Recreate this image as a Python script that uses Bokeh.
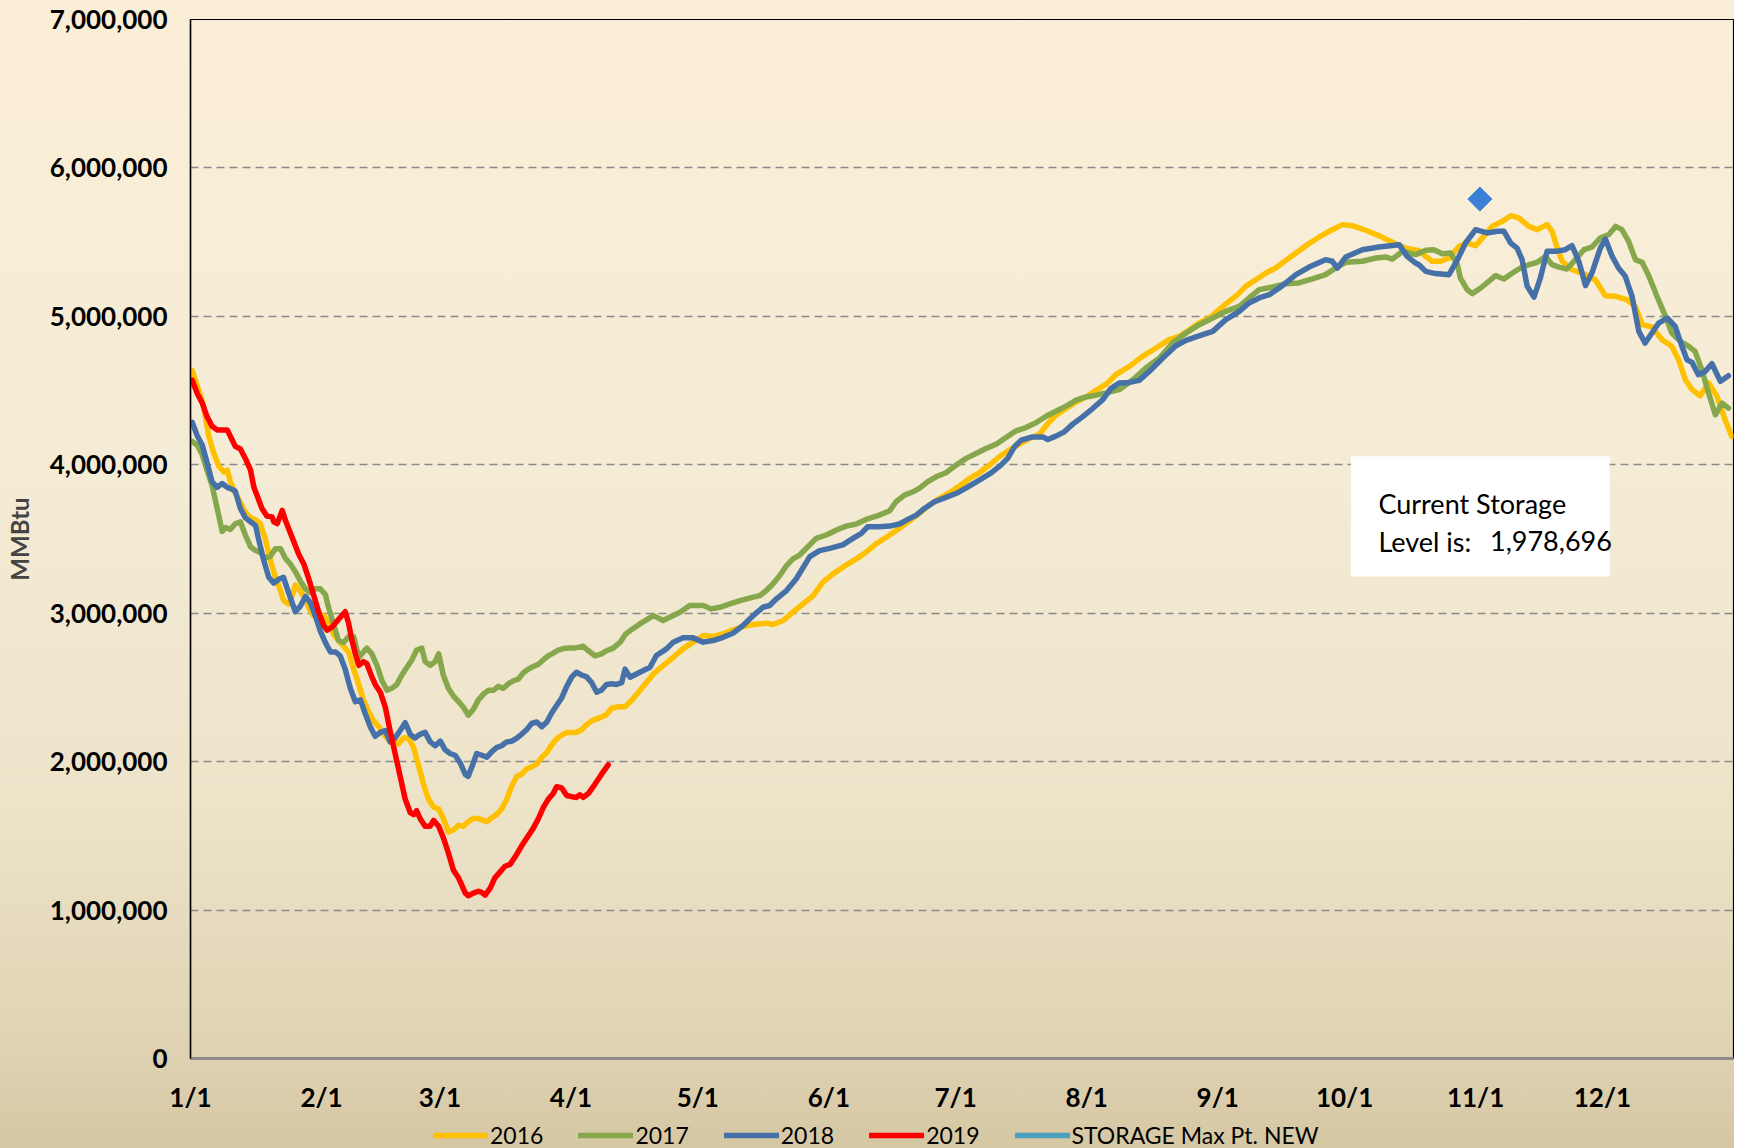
from bokeh.plotting import figure
from bokeh.layouts import column
from bokeh.models import (FixedTicker, NumeralTickFormatter, Legend, LegendItem,
                          BoxAnnotation, Label, Range1d)
from bokeh.embed import file_html
from bokeh.resources import INLINE
import math

# ---------------- data (day offset from Jan 1, storage in MMBtu) ----------------
days_2016 = [0.4, 1.6, 2.8, 3.5, 4.3, 5.5, 6.7, 7.9, 8.7, 9.4, 10.6, 11.8, 13.0, 14.2, 15.4, 16.5, 17.7, 18.9,
             20.1, 21.3, 22.0, 23.2, 24.0, 24.8, 25.6, 26.8, 28.0, 29.1, 30.3, 31.5, 32.7, 33.9, 35.0, 36.2,
             37.4, 38.6, 39.8, 40.9, 42.1, 43.3, 44.5, 45.7, 46.9, 48.0, 49.2, 50.4, 51.6, 52.8, 53.9, 55.1,
             56.3, 57.5, 58.7, 59.8, 61.0, 62.2, 63.4, 64.6, 65.7, 66.9, 68.1, 69.3, 70.1, 71.3, 72.4, 73.6,
             74.8, 76.0, 77.2, 78.3, 79.5, 80.7, 81.9, 83.1, 84.3, 85.4, 86.6, 87.8, 89.0, 90.2, 91.3, 92.5,
             93.7, 94.9, 96.1, 97.2, 98.4, 99.6, 101.2, 102.8, 104.3, 106.3, 109.5, 111.8, 114.2, 116.5, 118.9,
             121.3, 123.6, 126.0, 128.3, 130.7, 133.1, 136.2, 137.8, 140.2, 142.5, 144.9, 147.3, 149.6, 152.0,
             154.3, 157.5, 159.8, 162.2, 165.4, 167.7, 170.1, 172.4, 174.8, 177.2, 179.5, 181.9, 184.3, 186.6,
             189.0, 191.3, 193.7, 196.1, 198.4, 200.8, 202.8, 204.7, 207.1, 209.5, 211.8, 214.2, 216.6, 218.9,
             222.1, 225.2, 228.4, 231.5, 233.9, 236.3, 238.6, 241.0, 243.3, 245.7, 247.7, 249.6, 252.0, 254.4,
             256.7, 259.1, 261.5, 264.2, 267.0, 270.1, 272.5, 274.8, 278.0, 281.1, 284.3, 287.4, 290.6, 292.2,
             293.7, 295.7, 297.7, 300.1, 302.0, 304.0, 305.9, 307.9, 310.3, 312.3, 314.2, 316.6, 318.6, 320.9,
             322.1, 323.3, 324.5, 326.8, 329.2, 332.3, 334.7, 337.1, 339.8, 341.8, 343.4, 345.7, 348.1, 350.4,
             352.0, 353.6, 355.2, 357.1, 359.1, 361.1, 363.0, 364.6]
vals_2016 = [4634000, 4531000, 4428000, 4325000, 4196000, 4080000, 3990000, 3951000, 3964000, 3887000, 3809000,
             3745000, 3680000, 3642000, 3629000, 3603000, 3500000, 3358000, 3242000, 3151000, 3087000, 3061000,
             3113000, 3190000, 3164000, 3113000, 3035000, 2984000, 2984000, 2984000, 2932000, 2855000, 2816000,
             2778000, 2739000, 2623000, 2520000, 2416000, 2339000, 2275000, 2236000, 2184000, 2146000, 2133000,
             2120000, 2159000, 2159000, 2094000, 1978000, 1849000, 1746000, 1694000, 1681000, 1617000, 1527000,
             1540000, 1571000, 1565000, 1596000, 1617000, 1617000, 1604000, 1596000, 1622000, 1643000, 1681000,
             1746000, 1836000, 1901000, 1914000, 1952000, 1965000, 1983000, 2030000, 2061000, 2112000, 2153000,
             2179000, 2197000, 2197000, 2197000, 2215000, 2249000, 2275000, 2288000, 2300000, 2318000, 2360000,
             2370000, 2370000, 2411000, 2479000, 2591000, 2647000, 2703000, 2760000, 2805000, 2850000, 2843000,
             2861000, 2888000, 2910000, 2924000, 2933000, 2924000, 2951000, 3007000, 3063000, 3119000, 3209000,
             3265000, 3310000, 3366000, 3411000, 3468000, 3527000, 3572000, 3623000, 3673000, 3729000, 3774000,
             3812000, 3857000, 3908000, 3946000, 3998000, 4054000, 4099000, 4139000, 4177000, 4206000, 4278000,
             4334000, 4379000, 4424000, 4457000, 4502000, 4543000, 4607000, 4663000, 4730000, 4787000, 4843000,
             4865000, 4910000, 4955000, 4989000, 5045000, 5101000, 5146000, 5202000, 5247000, 5292000, 5326000,
             5377000, 5427000, 5483000, 5535000, 5584000, 5618000, 5611000, 5580000, 5544000, 5499000, 5460000,
             5443000, 5404000, 5371000, 5371000, 5393000, 5472000, 5494000, 5476000, 5539000, 5606000, 5640000,
             5678000, 5663000, 5606000, 5584000, 5618000, 5573000, 5460000, 5371000, 5314000, 5292000, 5247000,
             5139000, 5135000, 5112000, 5067000, 4944000, 4928000, 4843000, 4798000, 4708000, 4573000, 4506000,
             4465000, 4551000, 4461000, 4304000, 4191000]

days_2017 = [0.4, 1.6, 2.8, 3.9, 5.1, 6.3, 7.5, 8.3, 9.4, 10.6, 11.8, 13.0, 14.2, 15.4, 16.5, 17.7, 18.9, 20.1,
             21.3, 22.4, 23.6, 24.8, 26.0, 27.2, 28.3, 29.5, 30.7, 31.9, 32.7, 33.9, 35.0, 36.2, 37.4, 38.6,
             39.8, 40.9, 41.7, 42.9, 44.1, 45.3, 46.5, 47.6, 48.8, 50.0, 51.2, 52.4, 53.5, 54.7, 55.5, 56.7,
             57.9, 58.7, 59.8, 61.0, 62.2, 63.4, 64.6, 65.7, 66.9, 68.1, 69.3, 70.5, 71.7, 72.8, 74.0, 75.2,
             76.4, 77.6, 78.7, 79.9, 81.1, 82.3, 83.5, 84.6, 85.8, 87.0, 88.2, 89.4, 90.6, 91.7, 92.9, 94.1,
             95.7, 97.2, 98.4, 100.0, 101.6, 102.8, 104.0, 106.3, 109.5, 111.8, 114.2, 115.8, 118.1, 121.3,
             123.2, 125.2, 127.6, 130.0, 133.1, 134.7, 136.2, 137.8, 139.4, 141.0, 142.5, 144.1, 148.0, 150.4,
             152.8, 155.1, 157.5, 159.8, 163.0, 165.4, 166.9, 168.9, 170.9, 172.4, 174.4, 176.4, 178.7, 181.1,
             183.5, 185.8, 188.2, 190.6, 192.9, 195.3, 197.6, 200.0, 202.4, 204.7, 207.1, 209.5, 211.8, 214.2,
             216.6, 219.7, 222.9, 226.0, 229.2, 232.3, 235.5, 238.6, 241.8, 244.9, 248.1, 250.4, 252.8, 256.0,
             259.1, 262.2, 265.4, 268.5, 270.9, 273.3, 277.2, 280.4, 282.7, 284.3, 286.7, 289.8, 292.2, 294.1,
             296.1, 298.1, 299.7, 300.4, 302.0, 303.2, 305.2, 307.1, 308.7, 310.7, 312.7, 314.6, 316.6, 318.6,
             320.5, 322.1, 323.7, 325.6, 327.6, 329.6, 331.5, 333.5, 335.5, 337.1, 338.6, 340.2, 341.8, 343.4,
             345.0, 346.9, 348.9, 350.4, 352.4, 354.4, 355.9, 357.5, 359.1, 360.7, 362.3, 363.8]
vals_2017 = [4157000, 4132000, 4067000, 3964000, 3861000, 3706000, 3551000, 3577000, 3564000, 3603000, 3616000,
             3525000, 3448000, 3422000, 3409000, 3371000, 3384000, 3435000, 3435000, 3371000, 3332000, 3280000,
             3216000, 3164000, 3139000, 3164000, 3164000, 3126000, 3035000, 2919000, 2816000, 2803000, 2842000,
             2842000, 2700000, 2739000, 2765000, 2726000, 2649000, 2545000, 2481000, 2494000, 2520000, 2584000,
             2636000, 2687000, 2752000, 2765000, 2674000, 2649000, 2674000, 2726000, 2584000, 2494000, 2442000,
             2404000, 2365000, 2313000, 2352000, 2416000, 2455000, 2481000, 2481000, 2507000, 2494000, 2525000,
             2545000, 2558000, 2597000, 2623000, 2641000, 2656000, 2687000, 2713000, 2731000, 2752000, 2762000,
             2765000, 2765000, 2770000, 2778000, 2747000, 2713000, 2726000, 2747000, 2765000, 2803000, 2855000,
             2883000, 2928000, 2984000, 2951000, 2984000, 3007000, 3052000, 3052000, 3029000, 3040000, 3063000,
             3085000, 3108000, 3119000, 3153000, 3198000, 3254000, 3321000, 3366000, 3392000, 3504000, 3527000,
             3561000, 3587000, 3601000, 3632000, 3661000, 3691000, 3751000, 3796000, 3818000, 3841000, 3886000,
             3919000, 3946000, 3998000, 4043000, 4076000, 4110000, 4139000, 4184000, 4229000, 4251000, 4283000,
             4327000, 4361000, 4395000, 4435000, 4457000, 4469000, 4484000, 4506000, 4573000, 4652000, 4719000,
             4820000, 4888000, 4944000, 4989000, 5034000, 5067000, 5124000, 5180000, 5198000, 5220000, 5225000,
             5252000, 5281000, 5326000, 5364000, 5371000, 5393000, 5400000, 5386000, 5438000, 5416000, 5445000,
             5449000, 5422000, 5427000, 5348000, 5258000, 5180000, 5153000, 5191000, 5236000, 5274000, 5252000,
             5292000, 5326000, 5348000, 5364000, 5404000, 5348000, 5332000, 5319000, 5382000, 5449000, 5467000,
             5528000, 5551000, 5606000, 5584000, 5505000, 5382000, 5364000, 5270000, 5135000, 5000000, 4888000,
             4832000, 4798000, 4764000, 4641000, 4483000, 4337000, 4416000, 4382000]

days_2018 = [0.4, 1.6, 2.8, 3.9, 5.1, 6.3, 7.5, 8.7, 9.8, 10.6, 11.8, 13.0, 14.2, 15.4, 16.1, 17.3, 18.5, 19.7,
             20.9, 22.0, 23.2, 24.8, 26.0, 27.2, 28.3, 29.5, 30.7, 31.9, 33.1, 34.3, 35.4, 36.6, 37.8, 39.0,
             40.2, 41.3, 42.5, 43.7, 44.9, 46.1, 47.2, 48.4, 49.6, 50.8, 52.0, 53.1, 54.3, 55.5, 56.7, 57.9,
             59.1, 60.2, 61.4, 62.6, 63.8, 65.0, 65.7, 66.9, 67.7, 68.9, 70.1, 71.3, 72.4, 73.6, 74.8, 76.0,
             77.2, 78.3, 79.5, 80.7, 81.9, 83.1, 84.3, 85.4, 86.6, 87.8, 89.0, 90.2, 91.3, 92.5, 93.7, 94.9,
             96.1, 97.2, 98.4, 99.6, 100.8, 102.0, 102.8, 104.0, 106.3, 108.7, 110.2, 112.6, 114.2, 116.5,
             118.9, 121.3, 123.6, 126.0, 128.3, 130.7, 133.1, 135.4, 137.0, 138.6, 141.0, 143.3, 146.5, 148.8,
             151.2, 154.3, 156.7, 158.7, 160.2, 163.0, 165.4, 167.7, 169.7, 171.7, 173.6, 176.0, 178.7, 181.5,
             183.9, 186.6, 189.4, 191.7, 193.3, 194.9, 196.5, 199.2, 201.6, 202.8, 204.7, 206.7, 208.7, 211.0,
             213.4, 215.8, 217.7, 219.7, 222.1, 224.4, 226.8, 230.0, 233.1, 235.5, 238.2, 241.8, 244.9, 248.1,
             250.4, 252.8, 255.2, 258.3, 261.5, 264.6, 268.5, 270.1, 271.3, 273.3, 277.2, 281.1, 285.9, 287.8,
             289.8, 290.6, 292.2, 294.5, 297.7, 299.7, 301.6, 304.0, 306.7, 309.1, 310.7, 312.3, 313.8, 315.0,
             316.2, 317.8, 319.3, 320.9, 322.9, 325.2, 326.8, 328.4, 330.0, 331.5, 333.5, 334.7, 336.3, 337.8,
             339.4, 341.0, 342.6, 344.1, 345.7, 347.3, 349.3, 351.2, 352.8, 354.0, 355.2, 356.7, 358.3, 359.9,
             361.9, 363.8]
vals_2018 = [4286000, 4196000, 4132000, 4015000, 3887000, 3848000, 3874000, 3848000, 3835000, 3822000, 3706000,
             3642000, 3616000, 3590000, 3500000, 3358000, 3242000, 3203000, 3229000, 3242000, 3139000, 3010000,
             3048000, 3113000, 3074000, 2984000, 2881000, 2803000, 2739000, 2739000, 2713000, 2623000, 2494000,
             2404000, 2416000, 2326000, 2236000, 2171000, 2197000, 2210000, 2133000, 2159000, 2210000, 2262000,
             2184000, 2159000, 2184000, 2197000, 2133000, 2107000, 2138000, 2081000, 2055000, 2043000, 1991000,
             1914000, 1901000, 1991000, 2055000, 2043000, 2030000, 2068000, 2094000, 2107000, 2133000, 2138000,
             2159000, 2184000, 2215000, 2257000, 2267000, 2236000, 2267000, 2326000, 2378000, 2429000, 2507000,
             2571000, 2602000, 2584000, 2571000, 2532000, 2468000, 2481000, 2520000, 2525000, 2520000, 2532000,
             2623000, 2569000, 2602000, 2636000, 2715000, 2760000, 2805000, 2834000, 2834000, 2805000, 2816000,
             2838000, 2865000, 2917000, 2984000, 3040000, 3052000, 3097000, 3153000, 3232000, 3381000, 3422000,
             3437000, 3460000, 3504000, 3538000, 3583000, 3583000, 3587000, 3601000, 3632000, 3661000, 3706000,
             3751000, 3780000, 3812000, 3852000, 3897000, 3946000, 3998000, 4043000, 4121000, 4166000, 4188000,
             4188000, 4170000, 4193000, 4222000, 4274000, 4323000, 4379000, 4439000, 4513000, 4551000, 4555000,
             4569000, 4629000, 4719000, 4802000, 4838000, 4865000, 4899000, 4978000, 5034000, 5090000, 5124000,
             5146000, 5207000, 5281000, 5332000, 5382000, 5371000, 5326000, 5400000, 5449000, 5467000, 5483000,
             5404000, 5359000, 5348000, 5303000, 5288000, 5281000, 5382000, 5494000, 5584000, 5562000, 5573000,
             5573000, 5494000, 5460000, 5382000, 5202000, 5130000, 5258000, 5438000, 5438000, 5449000, 5476000,
             5371000, 5207000, 5292000, 5460000, 5521000, 5404000, 5326000, 5270000, 5135000, 4899000, 4820000,
             4888000, 4955000, 4989000, 4933000, 4798000, 4708000, 4690000, 4607000, 4629000, 4681000, 4562000,
             4600000]

days_2019 = [0.4, 1.6, 2.8, 3.9, 5.1, 6.3, 8.7, 9.8, 10.6, 11.8, 13.0, 14.2, 15.0, 15.7, 16.9, 18.1, 19.3, 19.7,
             20.5, 21.7, 22.4, 24.0, 25.6, 26.8, 28.0, 29.1, 30.3, 31.5, 32.3, 33.5, 35.0, 36.6, 37.4, 38.2,
             39.0, 39.8, 40.9, 41.7, 42.9, 43.7, 44.9, 46.1, 47.2, 48.4, 49.6, 50.8, 52.0, 52.8, 53.5, 54.3,
             55.5, 56.7, 57.5, 58.7, 59.8, 61.0, 62.2, 63.4, 64.2, 65.0, 65.7, 66.9, 68.1, 68.9, 69.7, 70.9,
             72.0, 73.2, 74.4, 75.6, 76.8, 78.3, 79.9, 81.1, 82.3, 83.5, 84.6, 85.8, 86.6, 87.8, 89.0, 90.2,
             91.3, 92.1, 92.9, 94.1, 95.7, 97.2, 98.8]
vals_2019 = [4570000, 4480000, 4415000, 4325000, 4260000, 4235000, 4235000, 4170000, 4124000, 4106000, 4041000,
             3964000, 3848000, 3796000, 3706000, 3654000, 3649000, 3616000, 3603000, 3693000, 3629000, 3513000,
             3397000, 3332000, 3229000, 3126000, 3010000, 2919000, 2886000, 2907000, 2958000, 3010000, 2932000,
             2816000, 2726000, 2649000, 2674000, 2661000, 2571000, 2520000, 2468000, 2365000, 2210000, 2055000,
             1901000, 1746000, 1656000, 1643000, 1669000, 1617000, 1565000, 1565000, 1604000, 1565000, 1488000,
             1385000, 1269000, 1217000, 1166000, 1114000, 1096000, 1114000, 1127000, 1119000, 1101000, 1148000,
             1217000, 1256000, 1295000, 1308000, 1359000, 1431000, 1501000, 1552000, 1617000, 1694000, 1746000,
             1785000, 1831000, 1823000, 1772000, 1764000, 1759000, 1777000, 1759000, 1785000, 1849000, 1914000,
             1978696]

max_pt_day = [305]
max_pt_val = [5790000]
current_storage = 1978696

month_ticks = [0, 31, 59, 90, 120, 151, 181, 212, 243, 273, 304, 334]
month_labels = ["1/1", "2/1", "3/1", "4/1", "5/1", "6/1", "7/1", "8/1", "9/1", "10/1", "11/1", "12/1"]
y_ticks = [0, 1000000, 2000000, 3000000, 4000000, 5000000, 6000000, 7000000]

series_names = ["2016", "2017", "2018", "2019", "STORAGE Max Pt. NEW"]
series_colors = ["#FFC000", "#86A74B", "#4671A8", "#FF0000", "#4BA0C0"]
series_days = [days_2016, days_2017, days_2018, days_2019, max_pt_day]
series_vals = [vals_2016, vals_2017, vals_2018, vals_2019, max_pt_val]

# ---------------- main chart ----------------
p = figure(width=1734, height=1113, frame_width=1543, frame_height=1039,
           output_backend="svg", toolbar_location=None,
           x_range=Range1d(0, 365), y_range=Range1d(0, 7000000),
           min_border_left=190, min_border_right=1, min_border_top=19, min_border_bottom=55,
           background_fill_color=None, border_fill_color=None)

p.outline_line_color = "black"
p.outline_line_width = 1.2

TICK_FONT = "Lato"
p.xaxis.ticker = FixedTicker(ticks=month_ticks)
p.xaxis.major_label_overrides = {t: l for t, l in zip(month_ticks, month_labels)}
p.yaxis.ticker = FixedTicker(ticks=y_ticks)
p.yaxis.formatter = NumeralTickFormatter(format="0,0")
for ax in (p.xaxis[0], p.yaxis[0]):
    ax.major_label_text_font = TICK_FONT
    ax.major_label_text_font_style = "bold"
    ax.major_label_text_font_size = "26px"
    ax.major_label_text_color = "black"
    ax.major_tick_line_color = None
    ax.minor_tick_line_color = None
    ax.major_tick_out = 0
    ax.major_tick_in = 0
p.xaxis.axis_line_color = "#8C8C8C"
p.xaxis.axis_line_width = 3
p.xaxis.major_label_standoff = 22
p.yaxis.axis_line_color = "black"
p.yaxis.axis_line_width = 1.5
p.yaxis.major_label_standoff = 23
p.yaxis.axis_label = "MMBtu"
p.yaxis.axis_label_text_font = TICK_FONT
p.yaxis.axis_label_text_font_style = "bold"
p.yaxis.axis_label_text_font_size = "24px"
p.yaxis.axis_label_standoff = 13

p.xgrid.grid_line_color = None
p.ygrid.grid_line_color = "#8A8A8A"
p.ygrid.grid_line_width = 1.6
p.ygrid.grid_line_dash = "8 5"

LW = 5.5
for d, v, c in zip(series_days[:4], series_vals[:4], series_colors[:4]):
    p.line(d, v, line_color=c, line_width=LW, line_join="round", line_cap="round")
p.scatter(max_pt_day, max_pt_val, marker="square", angle=math.pi / 4, size=17,
          fill_color="#3A80D6", line_color="#3A80D6")

# annotation box
p.add_layout(BoxAnnotation(left=274.5, right=335.7, bottom=3248000, top=4057000,
                           fill_color="white", fill_alpha=1.0, line_color=None))
ann_font = "Lato"
p.add_layout(Label(x=281.0, y=3736000, text="Current Storage", text_font=ann_font,
                   text_font_size="27px", text_color="black", text_baseline="alphabetic"))
p.add_layout(Label(x=281.0, y=3485000, text="Level is:", text_font=ann_font,
                   text_font_size="27px", text_color="black", text_baseline="alphabetic"))
p.add_layout(Label(x=307.4, y=3485000, text=f"{current_storage:,}", text_font=ann_font,
                   text_font_size="27px", text_color="black", text_baseline="alphabetic"))

# ---------------- legend strip (its frame is aligned with the chart frame) ----------------
lf = figure(width=1734, height=35, output_backend="svg", toolbar_location=None,
            x_range=Range1d(0, 1), y_range=Range1d(0, 1),
            x_axis_location=None, y_axis_location=None, min_border=0,
            background_fill_color=None, border_fill_color=None, outline_line_color=None)
lf.grid.visible = False
items = []
for name, col, d, v in zip(series_names, series_colors, series_days, series_vals):
    # first point of each series only (a one-point line draws nothing; it only feeds the legend)
    r = lf.line(x=d[:1], y=v[:1], line_color=col, line_width=LW, line_cap="round")
    items.append(LegendItem(label=name, renderers=[r]))
legend = Legend(items=items, orientation="horizontal", location=(243, 1), nrows=1,
                glyph_width=55, glyph_height=20, label_standoff=2, spacing=35,
                padding=0, margin=0, border_line_color=None, background_fill_alpha=0,
                label_text_font="Lato", label_text_font_size="23px", label_text_color="black")
lf.add_layout(legend, "center")

layout = column(p, lf, spacing=0,
                styles={"background": "linear-gradient(to bottom, #FBEED6 0%, #F5ECD6 40%, #EDE3C9 70%, #E0D4B5 90%, #D6C7A3 100%)"})

open("out.html", "w").write(file_html(layout, INLINE))
